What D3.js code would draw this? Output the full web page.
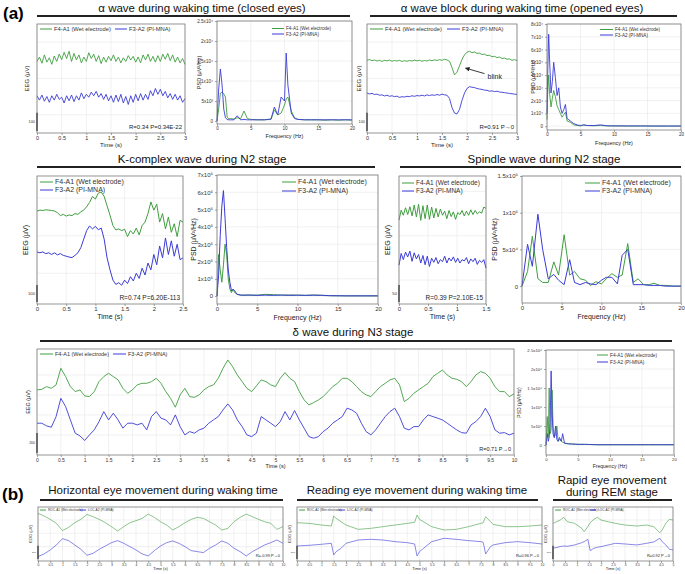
<!DOCTYPE html>
<html>
<head>
<meta charset="utf-8">
<script src="https://cdn.jsdelivr.net/npm/d3@7"></script>
<style>
body { margin: 0; background: #fff; }
</style>
</head>
<body>
<svg id="fig" width="685" height="574"></svg>
<script>
// ---------- data: alpha, closed eyes (EEG sampled every 0.05 s) ----------
const alphaWet = [94,118,84,130,90,114,78,124,94,134,104,144,110,150,94,138,102,130,86,118,94,142,110,134,94,126,82,118,90,122,98,130,94,118,86,114,94,126,102,122,90,118,86,130,102,134,94,122,90,126,94,134,106,138,98,130,90,118,86,110,78];
const alphaPi = [-95,-119,-91,-125,-99,-131,-95,-119,-87,-115,-103,-135,-95,-123,-91,-127,-95,-119,-79,-111,-87,-103,-75,-95,-71,-103,-83,-115,-87,-123,-95,-131,-91,-127,-87,-135,-99,-143,-95,-131,-87,-123,-83,-119,-87,-115,-67,-95,-55,-87,-59,-95,-71,-107,-83,-115,-87,-119,-95,-131,-111];
const alphaFreq = [0,0.25,0.5,0.75,1,1.25,1.5,1.75,2,2.5,3,3.5,4,4.5,5,6,7,8,8.5,9,9.5,10,10.25,10.5,11,11.5,12,13,14,15,16,17,18,19,20];
const alphaPsdWet = [0,3000,7000,7200,6800,6000,1000,500,600,500,800,600,2500,600,400,300,300,400,2800,1500,2000,4000,5500,6000,2500,800,400,300,300,300,200,300,200,300,200];
const alphaPsdPi = [0,8000,13000,9000,3000,800,400,300,300,300,1300,300,400,300,300,300,300,500,3500,1500,6000,5000,17000,9000,2000,600,400,300,300,300,300,300,300,300,300];
const alphaPsdTicks = [0,5000,10000,15000,20000,25000];
const alphaPsdLabels = ["0","5x10³","1x10⁴","1.5x10⁴","2x10⁴","2.5x10⁴"];

// ---------- alpha block, opened eyes (EEG every 0.05 s) ----------
const blinkWet = [100,104,98,102,96,100,94,100,97,101,95,99,96,100,94,98,95,99,96,101,97,100,95,99,96,102,98,103,99,104,100,106,102,95,60,20,35,70,105,130,145,150,142,146,138,140,132,134,126,128,120,122,115,118,110,112,106,108,100,104,98];
const blinkPi = [-80,-85,-82,-88,-86,-92,-90,-96,-92,-98,-95,-100,-97,-104,-100,-102,-98,-100,-95,-98,-94,-96,-92,-96,-90,-94,-90,-93,-88,-92,-86,-90,-92,-110,-160,-190,-195,-170,-120,-80,-55,-45,-48,-50,-55,-58,-60,-64,-65,-70,-68,-72,-70,-74,-76,-78,-80,-82,-84,-86,-88];
const openFreq = [0,0.1,0.25,0.4,0.6,0.8,1.0,1.25,1.5,1.75,2.0,2.25,2.5,2.75,3.0,3.5,4,4.5,5,5.5,6,7,8,9,10,12,14,16,18,20];
const openPsdWet = [5000,25000,40000,25000,15000,22000,28000,23000,16000,13000,10000,7000,9000,11000,4000,3000,1000,500,200,1000,500,300,500,200,200,100,100,100,100,100];
const openPsdPi = [10000,40000,72000,50000,26000,35000,50000,38000,24000,30000,15000,10000,13000,17000,6000,4000,2000,1000,500,1000,500,500,1000,300,200,200,200,100,100,100];
const openPsdTicks = [0,10000,20000,30000,40000,50000,60000,70000,80000];
const openPsdLabels = ["0","1x10⁴","2x10⁴","3x10⁴","4x10⁴","5x10⁴","6x10⁴","7x10⁴","8x10⁴"];

// ---------- K-complex, N2 (EEG every 0.05 s) ----------
const kWet = [145,150,148,152,150,148,145,135,118,125,115,122,118,130,125,140,150,170,195,230,215,250,256,230,175,120,60,34,40,30,38,-5,30,10,45,5,60,80,130,198,150,185,80,130,40,110,20,70,-5,90,80];
const kPi = [-95,-100,-95,-105,-100,-110,-100,-112,-105,-115,-120,-125,-128,-115,-100,-70,-20,30,57,40,55,35,45,-20,-130,-200,-260,-285,-275,-290,-260,-280,-240,-265,-220,-250,-190,-230,-160,-200,-110,-170,-60,-130,-13,-110,-30,-120,-50,-140,-130];
const kFreq = [0,0.2,0.4,0.6,0.8,1.0,1.2,1.4,1.6,1.8,2.0,2.2,2.5,3,4,5,6,7,8,9,10,11,12,13,14,16,18,20];
const kPsdWet = [0,240000,150000,80000,180000,300000,240000,100000,40000,20000,40000,20000,10000,5000,5000,5000,10000,8000,5000,6000,5000,4000,6000,3000,2000,1000,1000,1000];
const kPsdPi = [0,120000,350000,520000,610000,450000,280000,150000,80000,30000,40000,30000,10000,5000,6000,4000,5000,4000,6000,4000,5000,4000,5000,5000,2000,1000,1000,1000];
const kPsdTicks = [0,100000,200000,300000,400000,500000,600000,700000];
const kPsdLabels = ["0","1x10⁵","2x10⁵","3x10⁵","4x10⁵","5x10⁵","6x10⁵","7x10⁵"];

// ---------- spindle, N2 (EEG every 0.0375 s) ----------
const spWet = [46,75,60,82,62,85,58,90,55,92,45,88,50,90,48,84,52,80,55,78,60,72,50,74,56,70,48,68,62,74,58,72,60,76,62,74,64,70,66,84,80];
const spPi = [-86,-52,-70,-48,-62,-45,-75,-50,-68,-55,-80,-58,-85,-60,-90,-66,-78,-64,-82,-70,-76,-60,-80,-65,-74,-62,-78,-66,-80,-70,-74,-64,-82,-68,-76,-66,-84,-72,-78,-70,-95];
const spFreq = [0,0.7,1.3,2.0,2.6,3.3,4.0,4.6,5.3,6.0,6.6,7.3,8.0,8.6,9.3,10.0,10.6,11.3,12.0,12.6,13.3,14.0,14.6,15.3,16.0,16.6,17.3,18,19,20];
const spPsdWet = [0,20000,68000,10000,5000,5000,33000,15000,70000,15000,20000,10000,8000,1000,6000,3000,10000,17000,12000,15000,58000,5000,10000,2000,2000,4000,1000,1000,0,0];
const spPsdPi = [0,57000,27000,98000,50000,10000,16000,8000,2000,36000,5000,2000,5000,3000,2000,8000,12000,12000,3000,42000,50000,2000,2000,2000,1000,1000,1000,0,0,0];
const spPsdTicks = [0,50000,100000,150000];
const spPsdLabels = ["0","5x10⁴","1x10⁵","1.5x10⁵"];

// ---------- delta, N3 (EEG every 0.1 s) ----------
const deltaWet = [51,57,84,67,101,267,184,84,34,51,-9,-16,34,134,184,217,184,151,67,17,51,101,117,117,134,167,117,34,-33,-122,1,67,-16,-23,1,51,84,101,167,267,350,284,200,134,67,34,91,151,134,101,84,167,224,167,134,34,-49,-99,-76,-49,-16,34,84,117,167,167,134,84,34,1,-16,34,84,117,151,167,101,-66,-33,17,51,84,117,184,217,250,200,167,157,134,84,134,200,234,217,167,84,34,34,-16,11];
const deltaPi = [-282,-282,-309,-322,-216,-33,-116,-249,-382,-409,-455,-399,-349,-266,-166,-249,-182,-249,-332,-282,-282,-299,-282,-349,-216,-166,-232,-249,-299,-199,-316,-399,-366,-382,-349,-332,-282,-249,-216,-149,-89,-149,-249,-316,-399,-416,-382,-216,-249,-282,-316,-266,-166,-249,-156,-249,-332,-416,-432,-416,-366,-332,-282,-249,-216,-132,-149,-182,-282,-366,-399,-349,-282,-216,-166,-132,-216,-332,-349,-316,-316,-249,-199,-216,-232,-249,-282,-316,-349,-376,-382,-299,-266,-216,-132,-216,-349,-382,-376,-399,-382];
const deltaFreq = [0,0.2,0.35,0.5,0.65,0.8,0.95,1.1,1.3,1.5,1.7,1.9,2.1,2.4,2.6,2.9,3.5,4,5,6,8,10,12,14,16,18,20];
const deltaPsdWet = [0,750000,200000,1500000,300000,400000,1450000,500000,200000,300000,500000,100000,150000,100000,80000,50000,40000,30000,20000,20000,10000,10000,10000,10000,10000,10000,10000];
const deltaPsdPi = [0,300000,100000,200000,600000,1950000,900000,300000,200000,500000,150000,100000,200000,100000,300000,50000,30000,30000,20000,20000,10000,10000,10000,10000,10000,10000,10000];
const deltaPsdTicks = [0,500000,1000000,1500000,2000000,2500000];
const deltaPsdLabels = ["0","5x10⁵","1x10⁶","1.5x10⁶","2x10⁶","2.5x10⁶"];

// ---------- EOG (b) ----------
const horWet = [750,650,525,375,100,225,400,525,712,625,525,400,250,87,250,400,475,562,725,600,437,312,125,250,400,525,600,562,437,312,125,187,437,600,725,625,525,437,375,150,250];
const horPi = [-875,-775,-625,-437,-200,-275,-437,-600,-825,-750,-600,-475,-350,-275,-375,-500,-625,-775,-850,-650,-475,-350,-287,-375,-500,-650,-687,-725,-562,-437,-287,-375,-562,-687,-850,-687,-562,-437,-350,-250,-375];
const readT = [0,0.5,1.0,1.4,1.5,1.6,1.8,2.0,2.5,3.0,3.5,4.0,4.5,4.8,4.9,5.0,5.5,6.0,6.5,7.0,7.5,7.6,7.7,7.9,8.0,8.5,9.0,9.5,10];
const readWet = [400,375,312,275,650,562,437,312,150,187,250,312,375,412,687,525,250,125,150,250,375,400,625,437,337,250,250,275,312];
const readPi = [-475,-450,-412,-375,-812,-687,-562,-375,-250,-225,-250,-312,-350,-400,-850,-687,-312,-187,-225,-275,-312,-337,-775,-500,-437,-350,-312,-350,-400];
const remT = [0,0.3,0.45,0.6,0.9,1.2,1.3,1.45,1.55,1.7,1.85,2.0,2.3,2.6,3.0,3.5,3.9,4.2,4.45,4.55,4.7,4.85,5.0];
const remWet = [375,500,600,437,375,187,62,250,400,525,600,500,437,375,312,275,312,250,25,125,375,525,500];
const remPi = [-562,-500,-475,-487,-437,-350,-312,-225,-650,-562,-525,-500,-437,-375,-400,-437,-375,-325,-187,-312,-437,-600,-625];

const freqTicks = [0,5,10,15,20];
const halfSec = n => d3.range(0, n + 0.001, 0.5);

// ---------- drawing ----------
const svg = d3.select("#fig");
const FONT = "'Liberation Sans', Arial, sans-serif";
const WET = "#3f9e3f", PI = "#3b3bd6";

svg.append("defs").append("marker").attr("id", "arr")
  .attr("viewBox", "0 0 10 10").attr("refX", 9).attr("refY", 5)
  .attr("markerWidth", 5).attr("markerHeight", 5).attr("orient", "auto")
  .append("path").attr("d", "M0,0L10,5L0,10z").attr("fill", "#222");

const pairs = (vals, dt) => vals.map((v, i) => [i * dt, v]);
const zipT = (ts, vals) => ts.map((t, i) => [t, vals[i]]);

function addAxis(g, axis, tr, fs) {
  const a = g.append("g").attr("transform", tr).call(axis);
  a.attr("font-size", fs).attr("font-family", FONT);
  a.select(".domain").remove();
  a.selectAll(".tick line").attr("stroke", "#666").attr("stroke-width", 0.6);
  a.selectAll(".tick text").attr("fill", "#333");
  return a;
}

function grid(g, o, x, y, xt, yt) {
  g.append("g").selectAll("line").data(xt).join("line")
    .attr("x1", d => x(d)).attr("x2", d => x(d)).attr("y1", o.y0).attr("y2", o.y1)
    .attr("stroke", "#e3e3e3").attr("stroke-width", 0.5);
  g.append("g").selectAll("line").data(yt).join("line")
    .attr("x1", o.x0).attr("x2", o.x1).attr("y1", d => y(d)).attr("y2", d => y(d))
    .attr("stroke", "#e3e3e3").attr("stroke-width", 0.5);
}

function trace(g, x, y, pts, color, lw) {
  g.append("path").datum(pts)
    .attr("fill", "none").attr("stroke", color).attr("stroke-width", lw)
    .attr("stroke-linejoin", "round")
    .attr("d", d3.line().x(d => x(d[0])).y(d => y(d[1])));
}

function box(g, o) {
  g.append("rect").attr("x", o.x0).attr("y", o.y0)
    .attr("width", o.x1 - o.x0).attr("height", o.y1 - o.y0)
    .attr("fill", "none").attr("stroke", "#7a7a7a").attr("stroke-width", 0.8);
}

function legend(g, items, fs, len) {
  items.forEach(it => {
    g.append("line").attr("x1", it.x).attr("x2", it.x + len).attr("y1", it.y).attr("y2", it.y)
      .attr("stroke", it.c).attr("stroke-width", 1);
    g.append("text").attr("x", it.x + len + 2).attr("y", it.y).attr("dy", "0.35em")
      .attr("font-size", fs).attr("fill", "#333").text(it.t);
  });
}

function legendItems(xa, ya, xb, yb, names) {
  return [{x: xa, y: ya, c: WET, t: names[0]}, {x: xb, y: yb, c: PI, t: names[1]}];
}
const EEG_NAMES = ["F4-A1 (Wet electrode)", "F3-A2 (PI-MNA)"];
const EOG_NAMES = ["ROC-A1 (Wet electrode)", "LOC-A2 (PI-MNA)"];

function eegPanel(o) {
  const g = svg.append("g").attr("font-family", FONT);
  const x = d3.scaleLinear().domain([0, o.tMax]).range([o.x0, o.x1]);
  const y = d3.scaleLinear().domain(o.yDom).range([o.y1, o.y0]);
  grid(g, o, x, y, o.xTicks, o.yGrid);
  addAxis(g, d3.axisBottom(x).tickValues(o.xTicks).tickSize(2).tickPadding(1).tickFormat(d3.format("~g")),
    `translate(0,${o.y1})`, o.fs);
  trace(g, x, y, o.wet, WET, o.lw);
  trace(g, x, y, o.pi, PI, o.lw);
  box(g, o);
  const barLen = y(0) - y(o.bar);
  g.append("line").attr("x1", o.x0).attr("x2", o.x0).attr("y1", o.y1 - 2).attr("y2", o.y1 - 2 - barLen)
    .attr("stroke", "#444").attr("stroke-width", 1.4);
  g.append("text").attr("x", o.x0 - 2).attr("y", o.y1 - 2 - barLen / 2).attr("dy", "0.35em")
    .attr("text-anchor", "end").attr("font-size", o.fs * 0.7).attr("fill", "#333").text(o.bar);
  g.append("text").attr("x", (o.x0 + o.x1) / 2).attr("y", o.y1 + o.labDy)
    .attr("text-anchor", "middle").attr("font-size", o.lfs).attr("fill", "#222").text("Time (s)");
  g.append("text").attr("transform", `translate(${o.ylabX},${(o.y0 + o.y1) / 2}) rotate(-90)`)
    .attr("text-anchor", "middle").attr("font-size", o.lfs).attr("fill", "#222").text(o.ylab || "EEG (μV)");
  g.append("text").attr("x", o.x1 - 3).attr("y", o.y1 - 4).attr("text-anchor", "end")
    .attr("font-size", o.sfs).attr("fill", "#222").text(o.stat);
  legend(g, o.legend, o.gfs, o.len);
  return {g, x, y};
}

function psdPanel(o) {
  const g = svg.append("g").attr("font-family", FONT);
  const x = d3.scaleLinear().domain([0, 20]).range([o.x0, o.x1]);
  const y = d3.scaleLinear().domain(o.yDom).range([o.y1, o.y0]);
  grid(g, o, x, y, freqTicks, o.yTicks);
  addAxis(g, d3.axisBottom(x).tickValues(freqTicks).tickSize(2).tickPadding(1), `translate(0,${o.y1})`, o.fs);
  addAxis(g, d3.axisLeft(y).tickValues(o.yTicks).tickSize(2).tickPadding(2).tickFormat((d, i) => o.yLabels[i]),
    `translate(${o.x0},0)`, o.fs);
  trace(g, x, y, o.freq.map((f, i) => [f, o.wet[i]]), WET, o.lw);
  trace(g, x, y, o.freq.map((f, i) => [f, o.pi[i]]), PI, o.lw);
  box(g, o);
  g.append("text").attr("x", (o.x0 + o.x1) / 2).attr("y", o.y1 + o.labDy)
    .attr("text-anchor", "middle").attr("font-size", o.lfs).attr("fill", "#222").text("Frequency (Hz)");
  g.append("text").attr("transform", `translate(${o.ylabX},${(o.y0 + o.y1) / 2}) rotate(-90)`)
    .attr("text-anchor", "middle").attr("font-size", o.lfs).attr("fill", "#222").text("PSD (μV²/Hz)");
  legend(g, o.legend, o.gfs, o.len);
}

// ---------- row 1 ----------
eegPanel({x0: 37, x1: 185, y0: 24, y1: 133, tMax: 3, xTicks: halfSec(3), yDom: [-300, 300], yGrid: [-200, 0, 200],
  wet: pairs(alphaWet, 0.05), pi: pairs(alphaPi, 0.05), lw: 0.9, fs: 5.5, lfs: 6, sfs: 6, gfs: 5.8, len: 12,
  labDy: 14, ylabX: 29, bar: 100, stat: "R=0.34  P=0.34E-22",
  legend: legendItems(40, 29, 115, 29, EEG_NAMES)});

psdPanel({x0: 217, x1: 352, y0: 21, y1: 124, yDom: [-750, 25000], yTicks: alphaPsdTicks, yLabels: alphaPsdLabels,
  freq: alphaFreq, wet: alphaPsdWet, pi: alphaPsdPi, lw: 0.9, fs: 4.6, lfs: 5.5, gfs: 4.6, len: 12, labDy: 14, ylabX: 201,
  legend: legendItems(272, 28.5, 272, 34, EEG_NAMES)});

const blinkPanel = eegPanel({x0: 367, x1: 517, y0: 24, y1: 133, tMax: 3, xTicks: halfSec(3), yDom: [-300, 300], yGrid: [-200, 0, 200],
  wet: pairs(blinkWet, 0.05), pi: pairs(blinkPi, 0.05), lw: 0.9, fs: 5.5, lfs: 6, sfs: 6, gfs: 5.8, len: 13,
  labDy: 14, ylabX: 361, bar: 100, stat: "R=0.91  P→0",
  legend: legendItems(370, 29, 447, 29, EEG_NAMES)});
{
  const tx = blinkPanel.x(1.95), ty = blinkPanel.y(60);
  blinkPanel.g.append("line").attr("x1", tx + 20).attr("y1", ty + 6).attr("x2", tx + 1).attr("y2", ty + 0.5)
    .attr("stroke", "#222").attr("stroke-width", 0.9).attr("marker-end", "url(#arr)");
  blinkPanel.g.append("text").attr("x", tx + 23).attr("y", ty + 11).attr("font-size", 7).attr("fill", "#222").text("blink");
}

psdPanel({x0: 547, x1: 681, y0: 24, y1: 130, yDom: [-3000, 80000], yTicks: openPsdTicks, yLabels: openPsdLabels,
  freq: openFreq, wet: openPsdWet, pi: openPsdPi, lw: 0.9, fs: 4.6, lfs: 5.5, gfs: 4.6, len: 13, labDy: 15, ylabX: 535,
  legend: legendItems(600, 29.5, 600, 35, EEG_NAMES)});

// ---------- row 2 ----------
eegPanel({x0: 37, x1: 183, y0: 176, y1: 304, tMax: 2.5, xTicks: halfSec(2.5), yDom: [-400, 350], yGrid: [-220, 0, 220],
  wet: pairs(kWet, 0.05), pi: pairs(kPi, 0.05), lw: 1, fs: 6, lfs: 7, sfs: 6.5, gfs: 7, len: 13,
  labDy: 15, ylabX: 28, bar: 100, stat: "R=0.74  P=6.20E-113",
  legend: legendItems(40, 182, 40, 190, EEG_NAMES)});

psdPanel({x0: 217, x1: 378, y0: 175, y1: 304, yDom: [-46000, 700000], yTicks: kPsdTicks, yLabels: kPsdLabels,
  freq: kFreq, wet: kPsdWet, pi: kPsdPi, lw: 1, fs: 6, lfs: 7, gfs: 7, len: 14, labDy: 16, ylabX: 196,
  legend: legendItems(282, 182, 282, 191, EEG_NAMES)});

eegPanel({x0: 399, x1: 486, y0: 176, y1: 304, tMax: 1.5, xTicks: halfSec(1.5), yDom: [-200, 175], yGrid: [-130, 0, 130],
  wet: pairs(spWet, 0.0375), pi: pairs(spPi, 0.0375), lw: 1, fs: 6, lfs: 7, sfs: 6.5, gfs: 6.5, len: 12,
  labDy: 15, ylabX: 390, bar: 50, stat: "R=0.39  P=2.10E-15",
  legend: legendItems(402, 183, 402, 191, EEG_NAMES)});

psdPanel({x0: 522, x1: 681, y0: 176, y1: 303, yDom: [-23000, 150000], yTicks: spPsdTicks, yLabels: spPsdLabels,
  freq: spFreq, wet: spPsdWet, pi: spPsdPi, lw: 1, fs: 6, lfs: 7, gfs: 7, len: 15, labDy: 16, ylabX: 497,
  legend: legendItems(585, 183, 585, 191, EEG_NAMES)});

// ---------- row 3 ----------
eegPanel({x0: 37, x1: 514, y0: 349, y1: 455, tMax: 10, xTicks: halfSec(10), yDom: [-600, 460], yGrid: [-400, -200, 0, 200],
  wet: pairs(deltaWet, 0.1), pi: pairs(deltaPi, 0.1), lw: 0.9, fs: 5, lfs: 5.5, sfs: 5.5, gfs: 5.5, len: 13,
  labDy: 13, ylabX: 30, bar: 200, stat: "R=0.71  P→0",
  legend: legendItems(40, 354, 113, 354, EEG_NAMES)});

psdPanel({x0: 546, x1: 674, y0: 350, y1: 455, yDom: [-260000, 2500000], yTicks: deltaPsdTicks, yLabels: deltaPsdLabels,
  freq: deltaFreq, wet: deltaPsdWet, pi: deltaPsdPi, lw: 0.9, fs: 4.3, lfs: 5, gfs: 4.8, len: 11, labDy: 13, ylabX: 521,
  legend: legendItems(597, 355, 597, 362, EEG_NAMES)});

// ---------- (b) EOG ----------
const eogBase = {y0: 507, y1: 561, yDom: [-1040, 990], yGrid: [-500, 0, 500], lw: 0.6, fs: 3.4, lfs: 4, sfs: 4,
  gfs: 3.2, len: 6, labDy: 9, bar: 500, ylab: "EOG (μV)"};
eegPanel(Object.assign({}, eogBase, {x0: 38, x1: 283, tMax: 10, xTicks: halfSec(10),
  wet: pairs(horWet, 0.25), pi: pairs(horPi, 0.25), ylabX: 32, stat: "R=-0.99  P→0",
  legend: legendItems(40, 510, 80, 510, EOG_NAMES)}));
eegPanel(Object.assign({}, eogBase, {x0: 297, x1: 542, tMax: 10, xTicks: halfSec(10),
  wet: zipT(readT, readWet), pi: zipT(readT, readPi), ylabX: 291, stat: "R=0.96  P→0",
  legend: legendItems(299, 510, 339, 510, EOG_NAMES)}));
eegPanel(Object.assign({}, eogBase, {x0: 553, x1: 673, tMax: 5, xTicks: halfSec(5),
  wet: zipT(remT, remWet), pi: zipT(remT, remPi), ylabX: 547, stat: "R=0.92  P→0",
  legend: legendItems(555, 510, 590, 510, EOG_NAMES)}));

// ---------- titles ----------
const titles = [
  {t: "α wave during waking time (closed eyes)", x: 202, y: 12, l: [37, 350, 16]},
  {t: "α wave block during waking time (opened eyes)", x: 522, y: 12, l: [370, 677, 16]},
  {t: "K-complex wave during N2 stage", x: 202, y: 163, l: [37, 375, 167]},
  {t: "Spindle wave during N2 stage", x: 544, y: 163, l: [400, 681, 167]},
  {t: "δ wave during N3 stage", x: 353, y: 336, l: [40, 672, 341]},
  {t: "Horizontal eye movement during waking time", x: 163, y: 494, l: [40, 283, 500]},
  {t: "Reading eye movement during waking time", x: 417, y: 494, l: [297, 538, 500]},
  {t: "Rapid eye movement", x: 612, y: 484, l: null},
  {t: "during REM stage", x: 612, y: 496, l: [553, 672, 500]}
];
const tg = svg.append("g").attr("font-family", FONT);
titles.forEach(d => {
  tg.append("text").attr("x", d.x).attr("y", d.y).attr("text-anchor", "middle")
    .attr("font-size", 11.5).attr("fill", "#111").text(d.t);
  if (d.l) tg.append("line").attr("x1", d.l[0]).attr("x2", d.l[1]).attr("y1", d.l[2]).attr("y2", d.l[2])
    .attr("stroke", "#222").attr("stroke-width", 1.8);
});
tg.append("text").attr("x", 3).attr("y", 19).attr("font-size", 17).attr("font-weight", "bold").text("(a)");
tg.append("text").attr("x", 2).attr("y", 500).attr("font-size", 17).attr("font-weight", "bold").text("(b)");
</script>
</body>
</html>
